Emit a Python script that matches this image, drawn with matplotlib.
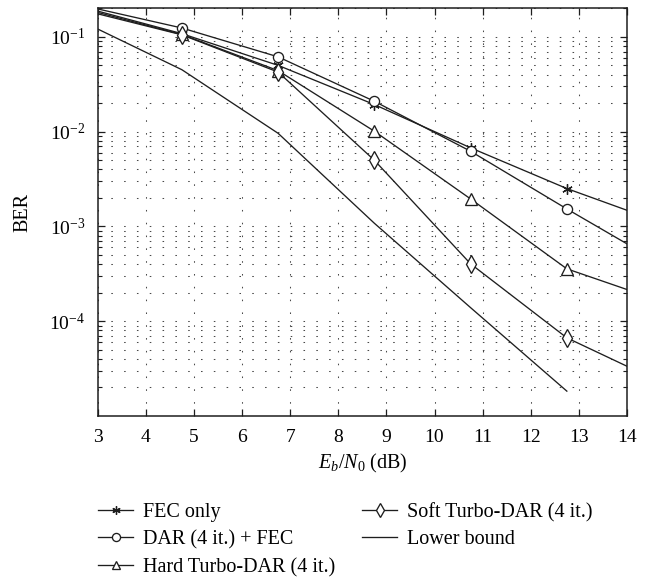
import matplotlib
matplotlib.use("Agg")
import matplotlib.pyplot as plt
from matplotlib.ticker import FixedLocator, LogLocator, NullFormatter, LogFormatterMathtext

# Eb/N0 (dB); first and last points are line ends only, no markers there
snr = [3, 4.75, 6.75, 8.75, 10.75, 12.75, 14]
fec_only = [0.187, 0.108, 0.050, 0.0193, 0.00675, 0.00251, 0.00148]
dar_fec = [0.197, 0.124, 0.0615, 0.0209, 0.00621, 0.00153, 0.000655]
hard_turbo = [0.181, 0.106, 0.044, 0.0101, 0.00195, 0.000357, 0.000216]
soft_turbo = [0.175, 0.105, 0.0425, 0.00499, 0.000403, 6.68e-5, 3.35e-5]

snr_lb = [3, 4.75, 6.75, 8.75, 10.75, 12.75]
lower_bound = [0.121, 0.045, 0.0096, 0.00108, 0.000139, 1.83e-5]

x_ticks = [3, 4, 5, 6, 7, 8, 9, 10, 11, 12, 13, 14]
y_major = [1e-4, 1e-3, 1e-2, 1e-1]

plt.rcParams["font.family"] = ["Liberation Serif", "DejaVu Serif"]
plt.rcParams["mathtext.fontset"] = "custom"
plt.rcParams["mathtext.rm"] = "Liberation Serif"
plt.rcParams["mathtext.it"] = "Liberation Serif:italic"
plt.rcParams["mathtext.bf"] = "Liberation Serif:bold"

ink = "#1e1e1e"

fig = plt.figure(figsize=(6.49, 5.77), dpi=100)
ax = fig.add_axes([0.1505, 0.279, 0.8156, 0.7066])

style = dict(color=ink, lw=0.95, mec=ink, mfc="white", mew=0.95, markevery=[1, 2, 3, 4, 5])
ax.plot(snr, fec_only, marker=(6, 2, 0), ms=7.5, label="FEC only", **style)
ax.plot(snr, dar_fec, marker="o", ms=7.3, label="DAR (4 it.) + FEC", **style)
ax.plot(snr, hard_turbo, marker="^", ms=8, label="Hard Turbo-DAR (4 it.)", **style)
ax.plot(snr, soft_turbo, marker="d", ms=9, label="Soft Turbo-DAR (4 it.)", **style)
ax.plot(snr_lb, lower_bound, color=ink, lw=0.95, label="Lower bound")

ax.set_yscale("log")
ax.set_xlim(3, 14)
ax.set_ylim(1e-5, 0.2)
ax.set_xticks(x_ticks)
ax.yaxis.set_major_locator(FixedLocator(y_major))
ax.yaxis.set_major_formatter(LogFormatterMathtext())
ax.yaxis.set_minor_locator(LogLocator(base=10, subs=range(2, 10), numticks=20))
ax.yaxis.set_minor_formatter(NullFormatter())

ax.grid(True, which="major", color="#4a4a4a", lw=0.75, ls=(0, (1.5, 10.8)))
ax.grid(True, which="minor", axis="y", color="#4a4a4a", lw=0.75, ls=(0, (1.5, 10.8)))

ax.tick_params(which="both", direction="in", top=True, right=True, labelsize=14, color=ink)
ax.tick_params(which="major", length=5, width=0.9)
ax.tick_params(which="minor", length=3, width=0.8)
ax.tick_params(axis="x", pad=9)
ax.tick_params(axis="y", pad=9)
for s in ax.spines.values():
    s.set_linewidth(1.1)
    s.set_color(ink)

ax.set_xlabel("$E_b/N_0$ (dB)", fontsize=14.5, labelpad=5)
ax.set_ylabel("BER", fontsize=14.5, labelpad=12)

handles, labels = ax.get_legend_handles_labels()
fig.legend(handles, labels, loc="upper left", bbox_to_anchor=(0.151, 0.129),
           ncol=2, frameon=False, fontsize=14.5, handlelength=1.75, handletextpad=0.47,
           labelspacing=0.41, columnspacing=1.34, borderpad=0, borderaxespad=0,
           markerscale=0.8, numpoints=1)

fig.savefig("out.png", dpi=100)
